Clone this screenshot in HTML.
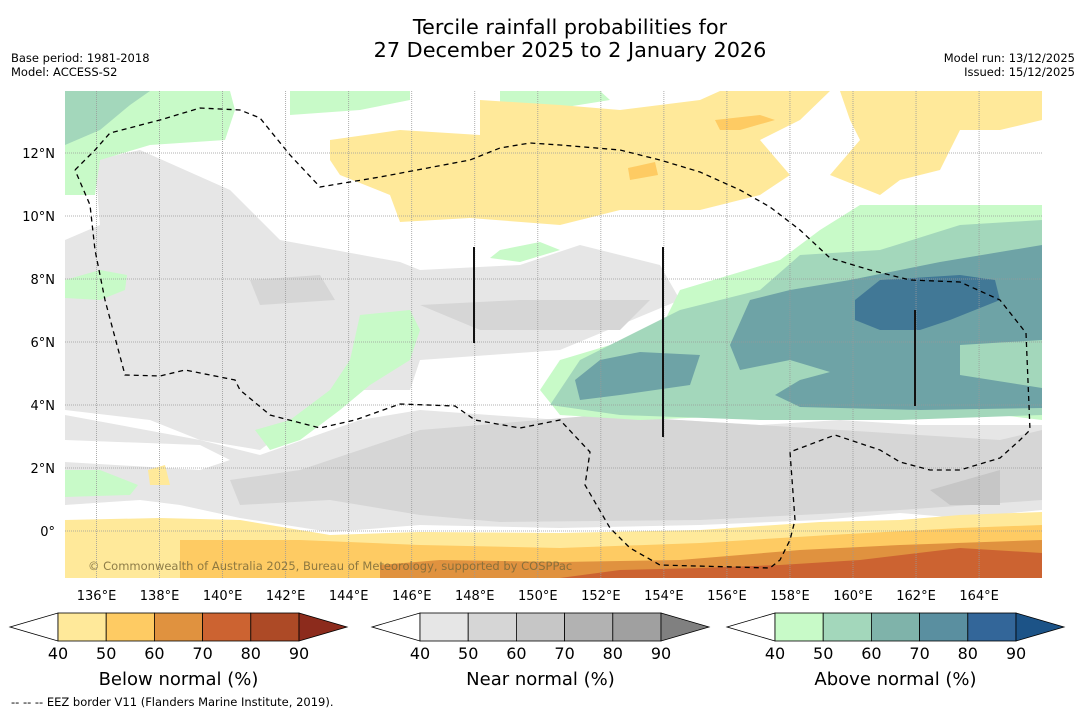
<!DOCTYPE html>
<html><head><meta charset="utf-8"><style>
body{margin:0;background:#fff;width:1085px;height:713px;overflow:hidden;font-family:"DejaVu Sans","Liberation Sans",sans-serif;}
svg{position:absolute;left:0;top:0;font-family:"DejaVu Sans","Liberation Sans",sans-serif}
</style></head><body>
<svg id="s" width="1085" height="713" xmlns="http://www.w3.org/2000/svg">
<text x="570" y="34" text-anchor="middle" font-size="20.8">Tercile rainfall probabilities for</text>
<text x="570" y="57" text-anchor="middle" font-size="20.8">27 December 2025 to 2 January 2026</text>
<text x="11" y="62" font-size="11.5">Base period: 1981-2018</text>
<text x="11" y="76" font-size="11.5">Model: ACCESS-S2</text>
<text x="1075" y="62" font-size="11.5" text-anchor="end">Model run: 13/12/2025</text>
<text x="1075" y="76" font-size="11.5" text-anchor="end">Issued: 15/12/2025</text>
<defs><clipPath id="mc"><rect x="65" y="91" width="977" height="487"/></clipPath></defs>
<g id="map" clip-path="url(#mc)">
<rect x="65" y="91" width="977" height="487" fill="#fff"/>
</g>
<text x="88" y="570" font-size="11.5" fill="#7a6a3a" fill-opacity="0.85">© Commonwealth of Australia 2025, Bureau of Meteorology, supported by COSPPac</text>
<g id="axes"></g>
<g id="bars"></g>
<text x="11" y="706" font-size="11.5">--  --  -- EEZ border V11 (Flanders Marine Institute, 2019).</text>
</svg>
<script>
const lonTicks=[136,138,140,142,144,146,148,150,152,154,156,158,160,162,164];
const latTicks=[12,10,8,6,4,2,0];
const cbTicks=[40,50,60,70,80,90];
const belowColors=["#ffe99a","#fecb63","#e0923f","#cc6331","#ad4a26","#8c2b1c"];
const nearColors=["#e6e6e6","#d6d6d6","#c6c6c6","#b2b2b2","#a0a0a0","#808080"];
const aboveColors=["#c8fac8","#a3d7bb","#7fb3aa","#5a8fa0","#336699","#1c5387"];
const NS="http://www.w3.org/2000/svg";
const xLon=l=>65+(l-135)*31.52;
const yLat=a=>531-a*31.5;
function mk(t,p,parent,attrs){const e=document.createElementNS(NS,t);for(const k in attrs)e.setAttribute(k,attrs[k]);parent.appendChild(e);return e;}
const map=document.getElementById('map');
const regions=[
["#e6e6e6","65,240 100,225 95,160 140,150 230,190 280,240 400,262 420,270 520,265 580,245 660,265 680,300 560,350 420,360 410,390 360,390 300,420 260,450 200,440 150,420 65,410"],
["#e6e6e6","65,415 200,440 260,455 360,420 420,410 560,420 680,420 760,425 840,420 920,425 1042,425 1042,510 960,518 900,513 820,520 700,525 560,528 420,525 330,532 240,518 180,505 140,500 65,505"],
["#fff","65,440 200,445 230,460 200,470 65,462"],
["#d6d6d6","230,480 300,470 420,430 600,415 1000,440 1042,430 1042,500 900,510 700,520 500,522 420,515 330,500 240,505"],
["#d6d6d6","250,280 320,275 335,300 260,305"],
["#d6d6d6","420,305 520,300 650,300 620,330 480,330"],
["#c6c6c6","930,490 1000,470 1000,505 950,505"],
["#c8fac8","540,390 560,360 660,330 680,290 780,260 820,230 860,205 1042,205 1042,420 960,410 760,415 640,420 560,415"],
["#c8fac8","500,250 540,242 560,250 520,262 490,258"],
["#a3d7bb","550,405 580,360 680,310 760,290 800,255 880,250 960,225 1042,220 1042,415 900,420 760,420 620,415"],
["#6ea3a6","730,345 750,300 790,290 850,280 940,262 1042,245 1042,340 960,345 960,375 1042,388 1042,408 920,410 800,407 775,395 800,380 830,372 790,360 740,370"],
["#6ea3a6","575,380 600,360 640,352 700,355 690,385 620,395 580,400"],
["#417896","855,300 880,280 960,275 995,280 1000,300 950,320 920,330 880,330 855,320"],
["#c8fac8","290,420 330,390 350,360 360,315 410,310 420,330 410,360 370,385 340,410 300,440 270,450 255,430"],
["#c8fac8","65,280 100,270 127,275 125,290 100,300 65,298"],
["#c8fac8","65,470 100,470 138,485 130,495 65,497"],
["#c8fac8","65,91 230,91 235,110 225,140 150,145 100,160 95,195 65,195"],
["#a3d7bb","65,91 150,91 130,105 100,130 65,145"],
["#c8fac8","290,91 410,91 410,100 360,110 290,115"],
["#c8fac8","500,91 600,91 610,100 560,108 500,105"],
["#ffe99a","330,140 400,130 480,135 480,100 560,105 620,110 700,100 720,91 830,91 800,120 760,140 790,175 760,195 700,210 620,210 560,225 470,218 400,222 390,195 340,175 330,160"],
["#ffe99a","840,91 1042,91 1042,120 1000,130 960,130 940,170 900,180 880,195 830,175 860,140 850,120"],
["#fecb63","715,120 760,115 775,120 740,130 720,130"],
["#fecb63","628,168 655,162 658,175 630,180"],
["#ffe99a","148,470 165,465 170,485 150,485"],
["#ffe99a","65,520 160,518 240,520 330,535 420,532 560,533 700,530 820,522 900,520 960,515 1042,512 1042,578 65,578"],
["#fecb63","180,540 300,540 420,545 560,548 700,543 830,535 960,528 1042,525 1042,578 180,578"],
["#e0923f","380,565 440,560 560,562 680,560 800,550 900,545 1042,540 1042,578 380,578"],
["#cc6331","560,578 620,570 700,568 780,565 860,560 960,548 1042,553 1042,578"]
];
regions.forEach(r=>{const p=mk('polygon',0,map,{points:r[1],fill:r[0]});

});
lonTicks.forEach(l=>{const g=mk('line',0,map,{x1:xLon(l),x2:xLon(l),y1:91,y2:578,stroke:'#999','stroke-width':0.8,'stroke-dasharray':'1,1'});

});
latTicks.forEach(a=>{const g=mk('line',0,map,{x1:65,x2:1042,y1:yLat(a),y2:yLat(a),stroke:'#999','stroke-width':0.8,'stroke-dasharray':'1,1'});

});
const eez=mk('polyline',0,map,{points:"75,170 95,150 110,133 160,120 200,108 240,110 260,118 290,155 320,187 380,177 470,160 500,148 530,143 560,145 620,150 660,160 700,172 740,190 770,207 800,230 830,258 870,270 910,280 960,282 1000,300 1026,333 1030,430 1020,440 1000,458 960,470 930,470 900,462 880,450 835,435 790,452 795,520 790,540 780,560 770,568 660,565 630,548 610,528 585,485 590,452 560,420 520,428 475,420 455,406 400,404 355,420 320,428 270,415 240,390 235,380 185,370 160,376 125,375 105,300 95,250 90,205 75,170",fill:'none',stroke:'#000','stroke-width':1.3,'stroke-dasharray':'5,4'});


[[474,247,343],[663,247,437],[915,310,406]].forEach(v=>{const l=mk('line',0,map,{x1:v[0],x2:v[0],y1:v[1],y2:v[2],stroke:'#111','stroke-width':2});

});
const axes=document.getElementById('axes');
lonTicks.forEach(l=>{const t=mk('text',0,axes,{x:xLon(l),y:600,'text-anchor':'middle','font-size':13});t.textContent=l+'°E';

});
latTicks.forEach(a=>{const t=mk('text',0,axes,{x:55,y:yLat(a)+5,'text-anchor':'end','font-size':13});t.textContent=a===0?'0°':a+'°N';

});
const bars=document.getElementById('bars');
[[58,belowColors,'Below normal (%)','below'],[420,nearColors,'Near normal (%)','near'],[775,aboveColors,'Above normal (%)','above']].forEach(c=>{
const x0=c[0],w=48.2,cols=c[1],y0=613,h=28;
const g=mk('g',0,bars,{});


mk('polygon',0,g,{points:`${x0-48},${y0+h/2} ${x0},${y0} ${x0},${y0+h}`,fill:'#fff',stroke:'#000','stroke-width':0.8});
for(let i=0;i<5;i++)mk('rect',0,g,{x:x0+i*w,y:y0,width:w,height:h,fill:cols[i],stroke:'#000','stroke-width':0.8});
mk('polygon',0,g,{points:`${x0+5*w},${y0} ${x0+5*w+48},${y0+h/2} ${x0+5*w},${y0+h}`,fill:cols[5],stroke:'#000','stroke-width':0.8});
cbTicks.forEach((v,i)=>{const t=mk('text',0,g,{x:x0+i*w,y:y0+h+18,'text-anchor':'middle','font-size':16});t.textContent=v;

});
const tt=mk('text',0,g,{x:x0+2.5*w,y:685,'text-anchor':'middle','font-size':18});tt.textContent=c[2];


});
</script>
</body></html>
